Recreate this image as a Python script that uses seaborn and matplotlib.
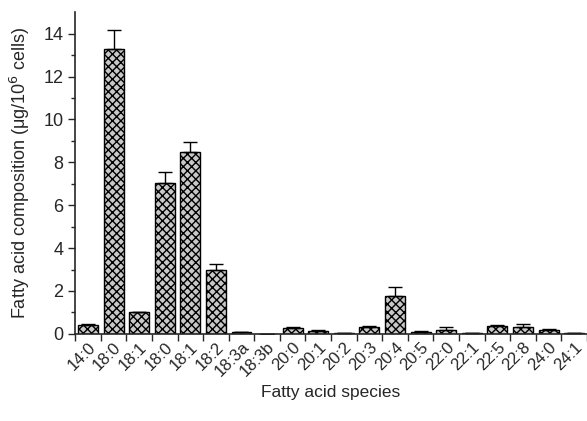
import numpy as np
import pandas as pd
import matplotlib
matplotlib.use("Agg")
import matplotlib.pyplot as plt
import seaborn as sns

# Fatty acid species (note the repeated 18:0 / 18:1 labels as in the original)
species = ["14:0", "18:0", "18:1", "18:0", "18:1", "18:2", "18:3a", "18:3b",
           "20:0", "20:1", "20:2", "20:3", "20:4", "20:5", "22:0", "22:1",
           "22:5", "22:8", "24:0", "24:1"]
composition = [0.40, 13.30, 1.00, 7.05, 8.50, 3.00, 0.08, 0.0,
               0.28, 0.15, 0.03, 0.33, 1.75, 0.10, 0.20, 0.02,
               0.38, 0.32, 0.20, 0.03]
error = [0.04, 0.85, 0.03, 0.52, 0.47, 0.27, 0.02, 0.0,
         0.03, 0.03, 0.0, 0.03, 0.45, 0.02, 0.10, 0.0,
         0.02, 0.15, 0.03, 0.0]

df = pd.DataFrame({"pos": [str(i) for i in range(len(species))],
                   "value": composition})

sns.set_style("ticks")
plt.rcParams["font.family"] = ["Liberation Sans", "DejaVu Sans"]
plt.rcParams["hatch.linewidth"] = 1.0

fig = plt.figure(figsize=(5.87, 4.21), dpi=100)
ax = fig.add_axes([0.128, 0.207, 0.872, 0.764])

sns.barplot(data=df, x="pos", y="value", color="#c8c8c8", width=0.78,
            edgecolor="black", linewidth=1.0, hatch="xxxx", ax=ax)

# upward-only error bars
ax.errorbar(range(len(species)), composition,
            yerr=[np.zeros(len(error)), error], fmt="none",
            ecolor="black", elinewidth=1.0, capsize=5, capthick=1.0)

ax.set_xlim(-0.5, len(species) - 0.5)
ax.set_ylim(0, 15)
ax.set_yticks(range(0, 15, 2))
ax.set_yticks(range(1, 15, 2), minor=True)

# ticks at category boundaries, labels centred under bars
ax.set_xticks(np.arange(-0.5, len(species), 1.0))
ax.set_xticklabels([])
ax.set_xticks(range(len(species)), minor=True)
ax.set_xticklabels(species, minor=True, rotation=45, ha="right",
                   rotation_mode="anchor", fontsize=12)
ax.tick_params(axis="x", which="minor", length=0, pad=4)
ax.tick_params(axis="x", which="major", length=5, width=1)
ax.tick_params(axis="y", which="major", length=5, width=1, labelsize=13)
ax.tick_params(axis="y", which="minor", length=3, width=1)

for s in ["left", "bottom"]:
    ax.spines[s].set_linewidth(1.2)
sns.despine(ax=ax)

ax.set_xlabel("Fatty acid species", fontsize=12.5, labelpad=4)
ax.set_ylabel("Fatty acid composition (\u03bcg/10$^6$ cells)", fontsize=13,
              labelpad=8)

fig.savefig("out.png", dpi=100)
